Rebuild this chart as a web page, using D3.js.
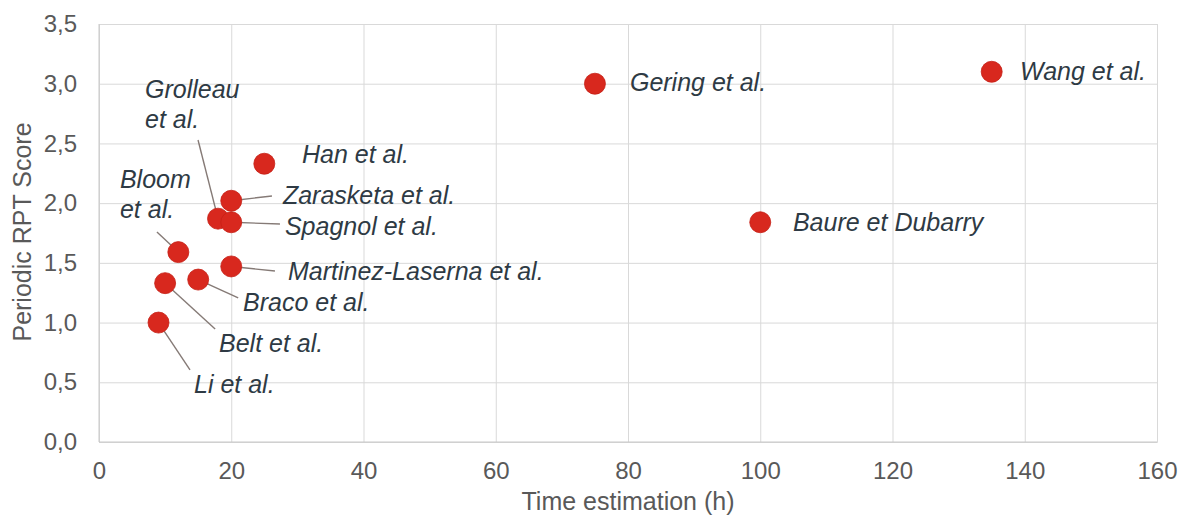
<!DOCTYPE html>
<html>
<head>
<meta charset="utf-8">
<script src="https://cdn.jsdelivr.net/npm/d3@7"></script>
<style>
  html, body { margin: 0; padding: 0; background: #ffffff; }
  svg { display: block; font-family: "Liberation Sans", Arial, sans-serif; }
</style>
</head>
<body>
<svg id="chart" width="1191" height="521"></svg>
<script>
// ---- Data ----
const studies = ["Li et al.", "Belt et al.", "Bloom et al.", "Braco et al.", "Martinez-Laserna et al.",
  "Grolleau et al.", "Spagnol et al.", "Zarasketa et al.", "Han et al.", "Gering et al.",
  "Baure et Dubarry", "Wang et al."];
const timeHours = [9, 10, 12, 15, 20, 18, 20, 20, 25, 75, 100, 135];
const rptScore = [1.0, 1.33, 1.59, 1.36, 1.47, 1.87, 1.84, 2.02, 2.33, 3.0, 1.84, 3.1];
const xTicks = [0, 20, 40, 60, 80, 100, 120, 140, 160];
const yTicks = [0, 0.5, 1.0, 1.5, 2.0, 2.5, 3.0, 3.5];
const xTitle = "Time estimation (h)";
const yTitle = "Periodic RPT Score";

// ---- Annotation layout (pixel offsets from each point) ----
const labelLines = [["Li et al."], ["Belt et al."], ["Bloom", "et al."], ["Braco et al."], ["Martinez-Laserna et al."],
  ["Grolleau", "et al."], ["Spagnol et al."], ["Zarasketa et al."], ["Han et al."], ["Gering et al."],
  ["Baure et Dubarry"], ["Wang et al."]];
const labelOffset = [[35.5, 70.4], [53.9, 68.8], [-58.4, -64.1], [44.8, 31.4], [56.7, 13.6],
  [-73, -120.7], [53.7, 12.8], [51.7, 3.2], [37.7, -0.7], [35, 7.3], [32.7, 8.8], [28.3, 8.2]];
const leaderEnd = [[31.5, 47.4], [50, 45.8], [-21.4, -20], [40, 18.4], [43.7, 4.6],
  [-20, -78.7], [48.7, 1.8], [40.7, -4.8], null, null, null, null];

// ---- Layout ----
const W = 1191, H = 521;
const plot = { left: 99, right: 1157, top: 24, bottom: 442 };
const svg = d3.select("#chart");

const x = d3.scaleLinear().domain([0, 160]).range([plot.left, plot.right]);
const y = d3.scaleLinear().domain([0, 3.5]).range([plot.bottom, plot.top]);

const gridColor = "#d9d9d9";
const tickColor = "#595959";
const labelColor = "#2e3a44";

// Grid via axes
const gx = svg.append("g")
  .attr("transform", `translate(0,${plot.bottom})`)
  .call(d3.axisBottom(x).tickValues(xTicks).tickSize(-(plot.bottom - plot.top)).tickFormat(d => d).tickPadding(20));
gx.select(".domain").attr("stroke", gridColor);
gx.selectAll(".tick line").attr("stroke", gridColor).attr("stroke-width", 1);
gx.selectAll(".tick text").attr("fill", tickColor).attr("font-size", 24).attr("dy", "0.71em")
  .attr("y", 20);

const fmt = d => d3.format(".1f")(d).replace(".", ",");
const gy = svg.append("g")
  .attr("transform", `translate(${plot.left},0)`)
  .call(d3.axisLeft(y).tickValues(yTicks).tickSize(-(plot.right - plot.left)).tickFormat(fmt).tickPadding(22));
gy.select(".domain").attr("stroke", gridColor);
gy.selectAll(".tick line").attr("stroke", gridColor).attr("stroke-width", 1);
gy.selectAll(".tick text").attr("fill", tickColor).attr("font-size", 24);

// left and bottom axis lines a touch darker
svg.append("line").attr("x1", plot.left).attr("x2", plot.left).attr("y1", plot.top).attr("y2", plot.bottom)
  .attr("stroke", "#c8c8c8");
svg.append("line").attr("x1", plot.left).attr("x2", plot.right).attr("y1", plot.bottom).attr("y2", plot.bottom)
  .attr("stroke", "#c8c8c8");

// Axis titles
svg.append("text").attr("x", (plot.left + plot.right) / 2).attr("y", 510)
  .attr("text-anchor", "middle").attr("fill", tickColor).attr("font-size", 25).text(xTitle);
svg.append("text").attr("transform", `translate(31,232) rotate(-90)`)
  .attr("text-anchor", "middle").attr("fill", tickColor).attr("font-size", 25).text(yTitle);

const pts = studies.map((s, i) => ({ name: s, t: timeHours[i], s: rptScore[i], i }));

// Leader lines
svg.append("g").selectAll("line").data(pts.filter(d => leaderEnd[d.i]))
  .join("line")
  .attr("x1", d => x(d.t)).attr("y1", d => y(d.s))
  .attr("x2", d => x(d.t) + leaderEnd[d.i][0]).attr("y2", d => y(d.s) + leaderEnd[d.i][1])
  .attr("stroke", "#857a76").attr("stroke-width", 1.4);

// Points
svg.append("g").selectAll("circle").data(pts).join("circle")
  .attr("cx", d => x(d.t)).attr("cy", d => y(d.s)).attr("r", 10.5)
  .attr("fill", "#d8281e").attr("stroke", "#c52117").attr("stroke-width", 0.8);

// Labels
const lg = svg.append("g");
pts.forEach(d => {
  const t = lg.append("text")
    .attr("x", x(d.t) + labelOffset[d.i][0])
    .attr("y", y(d.s) + labelOffset[d.i][1])
    .attr("fill", labelColor).attr("font-size", 25).attr("font-style", "italic");
  labelLines[d.i].forEach((line, k) => {
    t.append("tspan").attr("x", x(d.t) + labelOffset[d.i][0])
      .attr("dy", k === 0 ? 0 : 30).text(line);
  });
});
</script>
</body>
</html>
